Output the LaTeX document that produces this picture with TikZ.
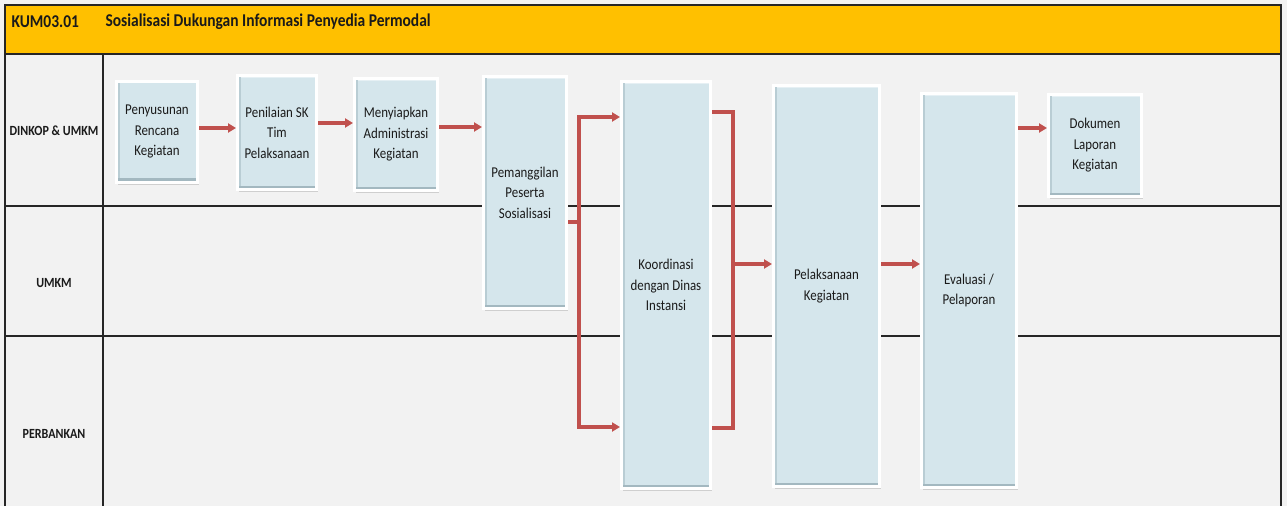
\documentclass[tikz,border=0pt]{standalone}
\usepackage{fontspec}
\setmainfont{Carlito}[FakeStretch=0.86]
\usetikzlibrary{arrows.meta,shadows}
\definecolor{hdr}{HTML}{FFC000}
\definecolor{bg}{HTML}{F2F2F2}
\definecolor{boxfill}{HTML}{D5E6EC}
\definecolor{bevel}{HTML}{A3B8C0}
\definecolor{flowred}{HTML}{C0504D}
\definecolor{frame}{HTML}{262626}
\definecolor{ink}{HTML}{1A1A1A}
\tikzset{
  procbox/.style={draw=white, line width=3pt, fill=boxfill, inner sep=0pt,
    align=center, font=\fontsize{15}{20.5}\selectfont, text=ink,
    drop shadow={opacity=0.3, shadow xshift=1.5pt, shadow yshift=-2.5pt},
    path picture={
      \fill[bevel] (path picture bounding box.south west) rectangle
        ([yshift=4pt]path picture bounding box.south east);
      \fill[bevel!55!boxfill] ([yshift=4pt]path picture bounding box.south west) rectangle
        ([xshift=3pt]path picture bounding box.north west);
      \fill[bevel!35!boxfill] ([xshift=-2pt,yshift=4pt]path picture bounding box.south east) rectangle
        (path picture bounding box.north east);
      \fill[white!40!boxfill] ([xshift=3pt]path picture bounding box.north west) rectangle
        ([xshift=-2pt,yshift=-2pt]path picture bounding box.north east);
    }},
  flowline/.style={draw=flowred, line width=3.2pt},
  flow/.style={flowline, -{Triangle[length=8pt,width=9pt]}},
  lane/.style={font=\bfseries\fontsize{14}{16}\selectfont, text=ink},
  hdrtext/.style={anchor=west, font=\bfseries\fontsize{18}{20}\selectfont, text=ink},
  grid/.style={draw=frame, line width=1.1pt}
}
\begin{document}
\begin{tikzpicture}[x=1pt,y=-1pt]
% page area and background
\useasboundingbox (0,0) rectangle (1287,506);
\fill[bg] (0,0) rectangle (1287,506);
% header band
\fill[hdr] (5,5) rectangle (1281,54);
\draw[grid] (5,506) -- (5,5) -- (1281,5) -- (1281,506);
\draw[grid] (5,54) -- (1281,54);
\node[hdrtext] (code) at (8,22) {KUM03.01};
\node[hdrtext] (title) at (102,22) {Sosialisasi Dukungan Informasi Penyedia Permodal};
% lanes
\draw[grid] (103,54) -- (103,506);
\draw[grid] (5,206) -- (1281,206);
\draw[grid] (5,336) -- (1281,336);
\node[lane] (l1) at (54,131) {DINKOP \& UMKM};
\node[lane] (l2) at (54,283) {UMKM};
\node[lane] (l3) at (54,434) {PERBANKAN};
% process boxes
\node[procbox, minimum width=81pt, minimum height=101pt] (b1) at (157,131.5) {Penyusunan\\Rencana\\Kegiatan};
\node[procbox, minimum width=79pt, minimum height=114pt] (b2) at (277,132.5) {Penilaian SK\\Tim\\Pelaksanaan};
\node[procbox, minimum width=83pt, minimum height=112pt] (b3) at (396,134.5) {Menyiapkan\\Administrasi\\Kegiatan};
\node[procbox, minimum width=83pt, minimum height=232pt] (b4) at (525,192.5) {Pemanggilan\\Peserta\\Sosialisasi};
\node[procbox, minimum width=89pt, minimum height=407pt] (b5) at (666,285) {Koordinasi\\dengan Dinas\\Instansi};
\node[procbox, minimum width=106pt, minimum height=401pt] (b6) at (826.5,286) {Pelaksanaan\\Kegiatan};
\node[procbox, minimum width=95pt, minimum height=394pt] (b7) at (969,290.5) {Evaluasi /\\Pelaporan};
\node[procbox, minimum width=93pt, minimum height=102pt] (b8) at (1095,145.5) {Dokumen\\Laporan\\Kegiatan};
% connectors
\draw[flow] (b1.east |- 0,128) -- (b2.west |- 0,128);
\draw[flow] (b2.east |- 0,123) -- (b3.west |- 0,123);
\draw[flow] (b3.east |- 0,127) -- (b4.west |- 0,127);
\coordinate (split) at (579,222);
\draw[flowline] (b4.east |- split) -- (split);
\draw[flow] ([yshift=-1.6pt]split) |- (b5.west |- 0,117);
\draw[flow] ([yshift=1.6pt]split) |- (b5.west |- 0,427);
\coordinate (merge) at (733,264);
\draw[flowline] (b5.east |- 0,112) -| (merge);
\draw[flowline] (b5.east |- 0,428) -| (merge);
\draw[flow] ([xshift=-1.6pt]merge) -- (b6.west |- merge);
\draw[flow] (b6.east |- 0,264) -- (b7.west |- 0,264);
\draw[flow] (b7.east |- 0,128) -- (b8.west |- 0,128);
\end{tikzpicture}
\end{document}
